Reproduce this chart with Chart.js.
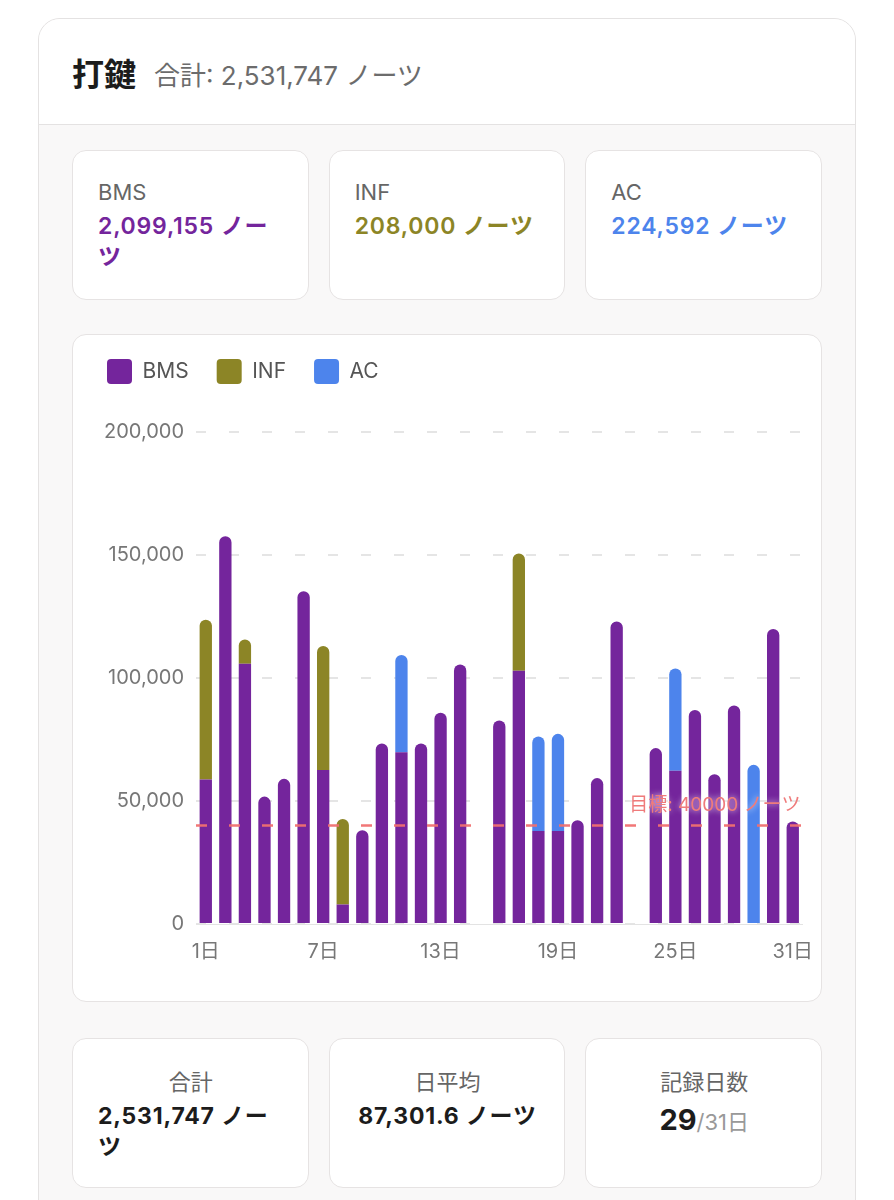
<!DOCTYPE html>
<html lang="ja">
<head>
<meta charset="utf-8">
<script src="https://cdn.jsdelivr.net/npm/chart.js@4.4.1/dist/chart.umd.min.js"></script>
<style>
  * { box-sizing: border-box; }
  body {
    margin: 0;
    background: #fff;
    font-family: "Inter", "Noto Sans CJK JP", sans-serif;
    width: 894px;
    height: 1200px;
    overflow: hidden;
  }
  .panel {
    position: absolute;
    left: 38px;
    top: 18px;
    width: 818px;
    height: 1230px;
    border: 1.5px solid #e4e2e2;
    border-radius: 22px;
    overflow: hidden;
    background: #f9f8f8;
  }
  .panel-head {
    height: 106px;
    background: #fff;
    border-bottom: 1.5px solid #e4e2e2;
    padding-left: 33px;
    display: flex;
    align-items: center;
  }
  .panel-head h2 {
    margin: 0;
    font-size: 32px;
    font-weight: 700;
    color: #1c1c1c;
  }
  .panel-head span {
    margin-left: 18px;
    font-size: 26px;
    color: #6c6c6c;
    padding-top: 4px;
  }
  .panel-body { padding: 25px 33px 0 33px; }
  .cards {
    display: grid;
    grid-template-columns: repeat(3, 1fr);
    gap: 20px;
  }
  .card {
    background: #fff;
    border: 1.5px solid #e6e3e3;
    border-radius: 14px;
    height: 150px;
    padding: 27px 24px 0 25px;
  }
  .card .lbl { font-size: 22px; color: #666; line-height: 28px; }
  .card .val { font-size: 23px; font-weight: 600; line-height: 31px; margin-top: 5px; letter-spacing: 0.8px; }
  .chart-card {
    position: relative;
    margin-top: 34px;
    background: #fff;
    border: 1.5px solid #e6e3e3;
    border-radius: 14px;
    height: 668px;
  }
  .chart-box { position: absolute; left: 6px; top: -4px; right: 0; bottom: 29px; }
  .cards.bottom { margin-top: 36px; }
  .cards.bottom .card { text-align: center; padding-top: 29px; }
  .cards.bottom .val {
    display: inline-block;
    text-align: left;
    color: #1c1c1c;
    font-weight: 700;
  }
  .days-big { font-size: 29px; font-weight: 700; color: #1c1c1c; letter-spacing: 0; }
  .days-small { font-size: 22px; color: #999; font-weight: 400; letter-spacing: 0; }
</style>
</head>
<body>
<div class="panel">
  <div class="panel-head">
    <h2>打鍵</h2><span>合計: 2,531,747 ノーツ</span>
  </div>
  <div class="panel-body">
    <div class="cards">
      <div class="card"><div class="lbl">BMS</div><div class="val" style="color:#74259c">2,099,155 ノーツ</div></div>
      <div class="card"><div class="lbl">INF</div><div class="val" style="color:#8c8526">208,000 ノーツ</div></div>
      <div class="card"><div class="lbl">AC</div><div class="val" style="color:#4d84ec">224,592 ノーツ</div></div>
    </div>
    <div class="chart-card">
      <div class="chart-box"><canvas id="keys-chart"></canvas></div>
    </div>
    <div class="cards bottom">
      <div class="card"><div class="lbl">合計</div><div class="val">2,531,747 ノーツ</div></div>
      <div class="card"><div class="lbl">日平均</div><div class="val">87,301.6 ノーツ</div></div>
      <div class="card"><div class="lbl">記録日数</div><div class="val" style="margin-top:8px"><span class="days-big">29</span><span class="days-small">/31日</span></div></div>
    </div>
  </div>
</div>

<script>
const days = ['1日','2日','3日','4日','5日','6日','7日','8日','9日','10日','11日','12日','13日','14日','15日','16日',
  '17日','18日','19日','20日','21日','22日','23日','24日','25日','26日','27日','28日','29日','30日','31日'];
const shownDays = ['1日','7日','13日','19日','25日','31日'];

const bmsNotes = [58700,157600,105800,51800,59000,135300,62600,7900,38100,73400,69800,73400,85900,105500,null,82700,
  102900,37800,37800,42200,59300,123000,null,71500,62300,87000,60900,88800,null,119900,41700];
const infNotes = [65000,null,9900,null,null,null,50400,34800,null,null,null,null,null,null,null,null,
  47700,null,null,null,null,null,null,null,null,null,null,null,null,null,null];
const acNotes = [null,null,null,null,null,null,null,null,null,null,39600,null,null,null,null,null,
  null,38400,39500,null,null,null,null,null,41600,null,null,null,64700,null,null];

const yTicks = [0, 50000, 100000, 150000, 200000];
const goalNotes = 40000;

const seriesColors = { BMS: '#74259c', INF: '#8c8526', AC: '#4d84ec' };

// round only the top segment of each stack
function topRadius(ctx) {
    const sets = ctx.chart.data.datasets;
    const i = ctx.dataIndex;
    for (let k = ctx.datasetIndex + 1; k < sets.length; k++) {
        if (sets[k].data[i]) return 0;
    }
    return { topLeft: 7, topRight: 7, bottomLeft: 0, bottomRight: 0 };
}

// extra room under the legend
const legendGap = {
    id: 'legendGap',
    beforeInit(chart) {
        const fit = chart.legend.fit;
        chart.legend.fit = function () {
            fit.bind(chart.legend)();
            this.height += 38;
        };
    }
};

const goalLine = {
    id: 'goalLine',
    afterDatasetsDraw(chart) {
        const { ctx, chartArea } = chart;
        const y = chart.scales.y.getPixelForValue(goalNotes);
        ctx.save();
        ctx.strokeStyle = 'rgba(240,112,112,0.95)';
        ctx.lineWidth = 2.5;
        ctx.setLineDash([11, 22]);
        ctx.beginPath();
        ctx.moveTo(chartArea.left, y);
        ctx.lineTo(chartArea.right, y);
        ctx.stroke();
        ctx.setLineDash([]);
        ctx.font = '19px "Inter", "Noto Sans CJK JP", sans-serif';
        ctx.textAlign = 'right';
        ctx.textBaseline = 'bottom';
        ctx.shadowColor = 'rgba(255,255,255,0.95)';
        ctx.shadowBlur = 6;
        ctx.fillStyle = '#ef7b7b';
        ctx.fillText('目標: ' + goalNotes + ' ノーツ', chartArea.right - 2, y - 11);
        ctx.restore();
    }
};

Chart.defaults.font.family = '"Inter", "Noto Sans CJK JP", sans-serif';

const ctx = document.getElementById('keys-chart').getContext('2d');
new Chart(ctx, {
    type: 'bar',
    data: {
        labels: days,
        datasets: [
            { label: 'BMS', data: bmsNotes, backgroundColor: seriesColors.BMS },
            { label: 'INF', data: infNotes, backgroundColor: seriesColors.INF },
            { label: 'AC', data: acNotes, backgroundColor: seriesColors.AC }
        ].map(d => Object.assign(d, {
            borderRadius: topRadius,
            borderSkipped: false,
            barPercentage: 0.63,
            categoryPercentage: 1
        }))
    },
    options: {
        responsive: true,
        maintainAspectRatio: false,
        animation: false,
        plugins: {
            legend: {
                align: 'start',
                labels: {
                    boxWidth: 25,
                    boxHeight: 25,
                    useBorderRadius: true,
                    borderRadius: 4,
                    padding: 28,
                    color: '#555',
                    font: { size: 21 }
                }
            },
            tooltip: { enabled: false }
        },
        scales: {
            x: {
                stacked: true,
                grid: { display: false },
                border: { display: true, color: '#e3e3e3' },
                ticks: {
                    autoSkip: false,
                    maxRotation: 0,
                    color: '#777',
                    font: { size: 20 },
                    padding: 8,
                    callback(value) {
                        const lbl = this.getLabelForValue(value);
                        return shownDays.includes(lbl) ? lbl : '';
                    }
                }
            },
            y: {
                stacked: true,
                min: yTicks[0],
                max: yTicks[yTicks.length - 1],
                afterBuildTicks(axis) { axis.ticks = yTicks.map(v => ({ value: v })); },
                afterFit(axis) { axis.width = 117; },
                grid: { color: '#e5e5e5', lineWidth: 2, drawTicks: false },
                border: { display: false, dash: [10, 23] },
                ticks: {
                    color: '#777',
                    font: { size: 20 },
                    padding: 12,
                    callback: v => v.toLocaleString('en-US')
                }
            }
        }
    },
    plugins: [legendGap, goalLine]
});
</script>
</body>
</html>
